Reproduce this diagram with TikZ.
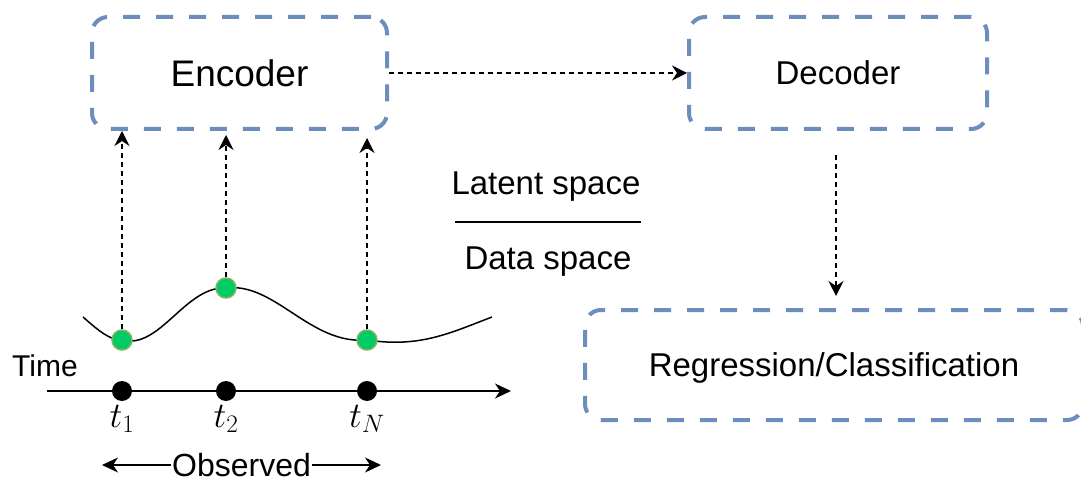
\RequirePackage{fix-cm}
\documentclass[tikz,border=0pt]{standalone}
\usepackage{fontspec}
\setmainfont{Liberation Sans}
\usepackage{tikz}
\usetikzlibrary{arrows.meta}
\definecolor{boxblue}{HTML}{6C8EBF}
\definecolor{dotgreen}{HTML}{00CC66}
\definecolor{dotrim}{HTML}{82B366}
\tikzset{
  blk/.style={draw=boxblue,line width=4pt,dash pattern=on 17pt off 16pt,rounded corners=16pt,align=center},
  arr/.style={-{Stealth[length=15pt,width=15pt,inset=5pt]},line width=1.5pt,dash pattern=on 5pt off 4pt},
  axis/.style={-{Stealth[length=16pt,width=15pt,inset=5pt]},line width=1.5pt},
  tdot/.style={circle,fill=black,inner sep=0pt,minimum size=20pt},
  gdot/.style={circle,fill=dotgreen,draw=dotrim,line width=1.5pt,inner sep=0pt,minimum size=20pt},
  txt/.style={inner sep=0pt},
}
\newcommand{\fs}[1]{\fontsize{#1}{#1}\selectfont}

\begin{document}
\begin{tikzpicture}[x=1pt,y=-1pt]
  \useasboundingbox (0,0) rectangle (1081,478);
  % boxes
  \node[blk,minimum width=295pt,minimum height=112pt] (enc) at (239.5,73) {\fs{37}Encoder};
  \node[blk,minimum width=298pt,minimum height=112pt] (dec) at (838,73) {\fs{33}Decoder};
  \node[blk,minimum width=498pt,minimum height=110pt,text depth=0pt] (reg) at (834,365) {\fs{33}Regression/Classification};
  \draw[arr] (enc.east) -- (dec.west);
  \coordinate (d0) at (836,155);
  \draw[arr] (d0) -- ([yshift=12pt]reg.north -| d0);
  % latent / data split
  \node[txt] (lat) at (546,187) {\fs{33}Latent space};
  \node[txt] (dat) at (548,262) {\fs{33}Data space};
  \coordinate (s1) at (455,222);
  \coordinate (s2) at (641,222);
  \draw[line width=1.5pt] (s1) -- (s2);
  % observations on the curve
  \coordinate (c1) at (122,340);
  \coordinate (c2) at (226,288);
  \coordinate (cN) at (367,340);
  \draw[line width=1.5pt] (83,317) .. controls (100,332) and (110,340) .. (c1)
    .. controls (160,350) and (185,286) .. (c2)
    .. controls (275,282) and (310,345) .. (cN)
    .. controls (420,348) and (450,333) .. (492,317);
  \node[gdot] (p1) at (c1) {};
  \node[gdot] (p2) at (c2) {};
  \node[gdot] (pN) at (cN) {};
  \coordinate (e1) at (122,131);
  \coordinate (e2) at (226,135);
  \coordinate (eN) at (367,138);
  \draw[arr] (p1) -- (e1);
  \draw[arr] (p2) -- (e2);
  \draw[arr] (pN) -- (eN);
  % time axis
  \node[txt] (time) at (45,366) {\fs{30}Time};
  \coordinate (a0) at (47,391);
  \coordinate (a1) at (511,391);
  \draw[axis] (a0) -- (a1);
  \node[tdot] (t1) at (122,391) {};
  \node[tdot] (t2) at (226,391) {};
  \node[tdot] (tN) at (367,391) {};
  \node[below=4pt,txt] at (t1.south) {\fs{36}$t_1$};
  \node[below=4pt,txt] at (t2.south) {\fs{36}$t_2$};
  \node[below=4pt,txt] at (tN.south) {\fs{36}$t_N$};
  \coordinate (o1) at (102,465);
  \coordinate (o2) at (381,465);
  \draw[{Stealth[length=16pt,width=15pt,inset=5pt]}-{Stealth[length=16pt,width=15pt,inset=5pt]},line width=1.5pt] (o1) -- node[fill=white,inner sep=1pt] {\fs{32}Observed} (o2);
\end{tikzpicture}
\end{document}
